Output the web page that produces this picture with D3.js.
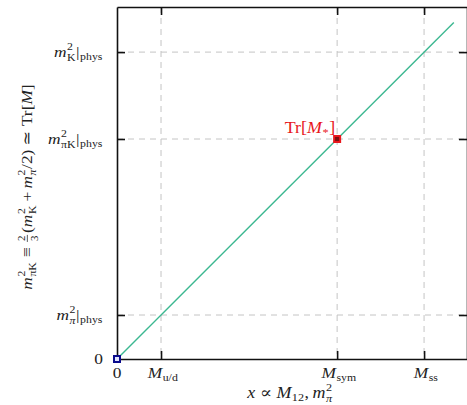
<!DOCTYPE html>
<html>
<head>
<meta charset="utf-8">
<script src="https://cdn.jsdelivr.net/npm/d3@7"></script>
<style>
  html, body { margin: 0; padding: 0; background: #fff; }
  svg { display: block; }
  text { font-family: "Liberation Serif", "DejaVu Serif", serif; }
</style>
</head>
<body>
<svg id="chart" width="467" height="405"></svg>
<script>
// Positions along the mass axis (units of M_sym) and the matching squared-mass levels
const xTickValues = [0, 0.2, 1, 1.395];
const xTickNames  = ["0", "M_u/d", "M_sym", "M_ss"];
const yTickValues = [0, 0.2, 1, 1.395];
const yTickNames  = ["0", "mpi_phys", "mpiK_phys", "mK_phys"];

// Trajectory Tr[M] = const  (m²_πK versus x)
const lineX = [0, 1.53];
const lineY = [0, 1.53];

// Marked points: chiral origin and symmetric point
const originPoint = [{ x: 0, y: 0 }];
const symPoint = [{ x: 1, y: 1 }];

const W = 467, H = 405;
const margin = { left: 117, top: 7, right: 0, bottom: 46 };
const svg = d3.select("#chart");

const x = d3.scaleLinear().domain([0, 1.59]).range([margin.left, W - margin.right]);
const y = d3.scaleLinear().domain([0, 1.6]).range([H - margin.bottom, margin.top]);

const FS = 15.5;
const WIDEN = 1.12;   // slightly wider glyphs, closer to a TeX roman face

// ---- small math typesetter: a row of tokens placed with measured widths ----
function mathRow(parent, tokens, size, color) {
  const outer = parent.append("g");
  const g = outer.append("g").attr("transform", `scale(${WIDEN},1)`);
  let cx = 0;
  const put = (str, px, dy, fs, italic) => {
    const t = g.append("text")
      .attr("x", px).attr("y", dy)
      .attr("font-size", fs)
      .attr("font-style", italic ? "italic" : "normal")
      .attr("fill", color)
      .text(str);
    return t.node().getComputedTextLength();
  };
  tokens.forEach(tk => {
    if (tk.pre) cx += tk.pre;
    if (tk.frac) {
      const fs = size * 0.62;
      const gap = 1.5;
      const wn = put(tk.frac[0], cx + gap, -size * 0.45, fs, false);
      const wd = put(tk.frac[1], cx + gap, size * 0.3 + 1, fs, false);
      const w = Math.max(wn, wd) + 2 * gap;
      g.append("line")
        .attr("x1", cx + gap * 0.5).attr("x2", cx + w - gap * 0.5)
        .attr("y1", -size * 0.3).attr("y2", -size * 0.3)
        .attr("stroke", color).attr("stroke-width", 0.7);
      cx += w + 1;
    } else if (tk.sup !== undefined || tk.sub !== undefined) {
      const fs = size * 0.68;
      const both = tk.sup !== undefined && tk.sub !== undefined;
      let w1 = 0, w2 = 0;
      if (tk.sup !== undefined) w1 = put(tk.sup, cx + 0.5, -size * 0.45, fs, !!tk.supIt);
      if (tk.sub !== undefined) w2 = put(tk.sub, cx + 0.5, size * (both ? 0.26 : 0.2), fs, !!tk.subIt);
      cx += Math.max(w1, w2) + 1;
    } else {
      cx += put(tk.t, cx, 0, size, !!tk.it);
    }
    if (tk.pad) cx += tk.pad;
  });
  outer.node().__width = cx * WIDEN;
  return outer;
}

const phys = { sub: "phys" };
const labelTokens = {
  "0": [{ t: "0" }],
  "M_u/d": [{ t: "M", it: true }, { sub: "u/d" }],
  "M_sym": [{ t: "M", it: true }, { sub: "sym" }],
  "M_ss": [{ t: "M", it: true }, { sub: "ss" }],
  "mpi_phys": [{ t: "m", it: true }, { sup: "2", sub: "π", subIt: true }, { t: "|" }, phys],
  "mpiK_phys": [{ t: "m", it: true }, { sup: "2", sub: "πK" }, { t: "|" }, phys],
  "mK_phys": [{ t: "m", it: true }, { sup: "2", sub: "K" }, { t: "|" }, phys]
};

// ---- grid lines (dashed) ----
const plotTop = y.range()[1], plotBottom = y.range()[0];
const plotLeft = x.range()[0], plotRight = x.range()[1];

svg.append("g").selectAll("line.vg")
  .data(xTickValues.filter(v => v > 0)).join("line")
  .attr("x1", d => x(d)).attr("x2", d => x(d))
  .attr("y1", plotTop).attr("y2", plotBottom)
  .attr("stroke", "#c4c4c4").attr("stroke-width", 1).attr("stroke-dasharray", "6,5");

svg.append("g").selectAll("line.hg")
  .data(yTickValues.filter(v => v > 0)).join("line")
  .attr("x1", plotLeft).attr("x2", plotRight)
  .attr("y1", d => y(d)).attr("y2", d => y(d))
  .attr("stroke", "#c4c4c4").attr("stroke-width", 1).attr("stroke-dasharray", "6,5");

// ---- axes: frame with inward ticks on every side ----
const tickLen = 8;
const axisStyle = g => {
  g.select(".domain").attr("stroke", "#111").attr("stroke-width", 1.6);
  g.selectAll(".tick line").attr("stroke", "#111").attr("stroke-width", 1.6);
  g.selectAll(".tick text").remove();
};
svg.append("g").attr("transform", `translate(0,${plotBottom})`)
  .call(d3.axisBottom(x).tickValues(xTickValues.filter(v => v > 0)).tickSize(-tickLen).tickSizeOuter(0))
  .call(axisStyle);
svg.append("g").attr("transform", `translate(0,${plotTop})`)
  .call(d3.axisTop(x).tickValues(xTickValues.filter(v => v > 0)).tickSize(-tickLen).tickSizeOuter(0))
  .call(axisStyle);
svg.append("g").attr("transform", `translate(${plotLeft},0)`)
  .call(d3.axisLeft(y).tickValues(yTickValues.filter(v => v > 0)).tickSize(-tickLen).tickSizeOuter(0))
  .call(axisStyle);
svg.append("g").attr("transform", `translate(${plotRight},0)`)
  .call(d3.axisRight(y).tickValues(yTickValues.filter(v => v > 0)).tickSize(-tickLen).tickSizeOuter(0))
  .call(axisStyle);

// ---- tick labels ----
xTickValues.forEach((v, i) => {
  const g = mathRow(svg, labelTokens[xTickNames[i]], FS, "#222");
  g.attr("transform", `translate(${x(v) - g.node().__width / 2 + (i > 0 ? 2 : 0)},${plotBottom + 19})`);
});
yTickValues.forEach((v, i) => {
  const g = mathRow(svg, labelTokens[yTickNames[i]], FS, "#222");
  const right = plotLeft - 14;
  g.attr("transform", `translate(${right - g.node().__width},${y(v) + 5})`);
});

// ---- trajectory line ----
const lineData = lineX.map((v, i) => ({ x: v, y: lineY[i] }));
svg.append("path")
  .datum(lineData)
  .attr("fill", "none")
  .attr("stroke", "#3cb891")
  .attr("stroke-width", 1.4)
  .attr("d", d3.line().x(d => x(d.x)).y(d => y(d.y)));

// ---- marked points ----
const sq = 6;
svg.selectAll("rect.origin").data(originPoint).join("rect")
  .attr("x", d => x(d.x) - sq / 2).attr("y", d => y(d.y) - sq / 2)
  .attr("width", sq).attr("height", sq)
  .attr("fill", "#dfe3ff").attr("stroke", "#0a0a8c").attr("stroke-width", 2);

svg.selectAll("rect.sym").data(symPoint).join("rect")
  .attr("x", d => x(d.x) - sq / 2).attr("y", d => y(d.y) - sq / 2)
  .attr("width", sq).attr("height", sq)
  .attr("fill", "#7a1010").attr("stroke", "#e8161c").attr("stroke-width", 2);

// label of the symmetric point
{
  const g = mathRow(svg, [{ t: "Tr[" }, { t: "M", it: true }, { sub: "*" }, { t: "]" }], FS + 0.5, "#e8161c");
  g.attr("transform", `translate(${x(symPoint[0].x) - 2 - g.node().__width},${y(symPoint[0].y) - 6})`);
}

// ---- axis titles ----
{
  const g = mathRow(svg, [
    { t: "x", it: true, pad: 4 }, { t: "∝", pad: 4 }, { t: "M", it: true }, { sub: "12" },
    { t: ",", pad: 3 }, { t: "m", it: true }, { sup: "2", sub: "π", subIt: true }
  ], FS + 0.5, "#222");
  g.attr("transform", `translate(${290 - g.node().__width / 2},${H - 7})`);
}
{
  const g = mathRow(svg, [
    { t: "m", it: true }, { sup: "2", sub: "πK" }, { t: "≡", pre: 4, pad: 4 }, { frac: ["2", "3"] },
    { t: "(" }, { t: "m", it: true }, { sup: "2", sub: "K" }, { t: "+", pre: 3, pad: 3 },
    { t: "m", it: true }, { sup: "2", sub: "π", subIt: true }, { t: "/2)" },
    { t: "≃", pre: 4, pad: 4 }, { t: "Tr[" }, { t: "M", it: true }, { t: "]" }
  ], FS, "#222");
  const w = g.node().__width;
  g.attr("transform", `translate(32,${187 + w / 2}) rotate(-90)`);
}
</script>
</body>
</html>
